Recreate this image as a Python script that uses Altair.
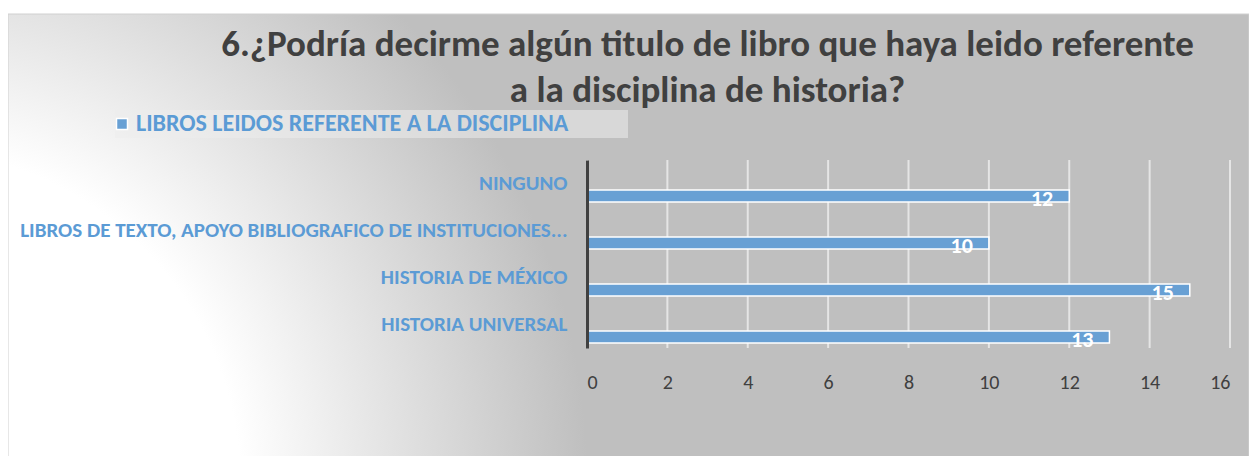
import altair as alt
import pandas as pd

categories = ["NINGUNO", "LIBROS DE TEXTO, APOYO BIBLIOGRAFICO DE INSTITUCIONES...",
              "HISTORIA DE MÉXICO", "HISTORIA UNIVERSAL"]
values = [12, 10, 15, 13]
series_name = "LIBROS LEIDOS REFERENTE A LA DISCIPLINA"
title_lines = ["6.¿Podría decirme algún titulo de libro que haya leido referente",
               "a la disciplina de historia?"]
x_ticks = [0, 2, 4, 6, 8, 10, 12, 14, 16]

FONT = "Carlito, Lato, sans-serif"
BLUE = "#5b9bd5"
BAR_BLUE = "#68a0d4"

df = pd.DataFrame({"cat": categories, "val": values, "series": [series_name] * len(values)})
ticks_df = pd.DataFrame({"t": x_ticks})

W, H = 643, 188
PAD_L, PAD_T = 579, 152
TOTAL_W, TOTAL_H = 1241, 448

# background panel with a radial gradient from the lower-left corner
bg = alt.Chart(pd.DataFrame({"k": [0]})).mark_rect(
    fill=alt.RadialGradient(
        gradient="radial",
        stops=[alt.GradientStop(color="#ffffff", offset=0),
               alt.GradientStop(color="#bfbfbf", offset=1)],
        x1=-0.083, y1=0.70, r1=0.27, x2=-0.083, y2=0.70, r2=0.55),
    stroke="#d0d0d0", strokeWidth=1,
).encode(x=alt.value(-PAD_L), x2=alt.value(TOTAL_W - PAD_L),
         y=alt.value(-146), y2=alt.value(TOTAL_H - PAD_T + 2))

legend_box = alt.Chart(pd.DataFrame({"k": [0]})).mark_rect(
    fill="#ececec", fillOpacity=0.55
).encode(x=alt.value(-472), x2=alt.value(41), y=alt.value(-50), y2=alt.value(-22))

grid = alt.Chart(ticks_df).mark_rule(color="#ffffff", strokeWidth=2, opacity=0.6).encode(
    x=alt.X("t:Q", scale=alt.Scale(domain=[0, 16], nice=False)))

y_enc = alt.Y("cat:N", sort=None, scale=alt.Scale(paddingInner=0, paddingOuter=0),
              axis=alt.Axis(title=None, labelFont=FONT, labelFontWeight="bold",
                            labelFontSize=21, labelColor=BLUE, labelPadding=20,
                            labelLimit=700, ticks=False, domain=True,
                            domainColor="#404040", domainWidth=3, grid=False, zindex=1))
x_enc = alt.X("val:Q", scale=alt.Scale(domain=[0, 16], nice=False),
              axis=alt.Axis(title=None, values=x_ticks, domain=False, ticks=False,
                            grid=False, labelFont=FONT, labelFontSize=20,
                            labelColor="#404040", labelPadding=24, zindex=1))

bars = alt.Chart(df).mark_bar(size=12, yOffset=12.5, stroke="#ffffff", strokeWidth=1.5).encode(
    x=x_enc, y=y_enc,
    color=alt.Color("series:N", scale=alt.Scale(range=[BAR_BLUE]),
                    legend=alt.Legend(title=None, orient="none", legendX=-477, legendY=-48,
                                      symbolType="square", symbolSize=121,
                                      symbolStrokeColor="#ffffff", symbolStrokeWidth=1.5,
                                      labelFont=FONT, labelFontWeight="bold",
                                      labelFontSize=24, labelColor=BLUE, labelLimit=800,
                                      symbolOffset=0, labelOffset=2, padding=0)),
)

labels = alt.Chart(df).mark_text(align="right", baseline="middle", dx=-16, yOffset=15.5,
                                 font=FONT, fontWeight="bold", fontSize=22,
                                 color="#ffffff").encode(
    x="val:Q", y=alt.Y("cat:N", sort=None), text="val:Q")

chart = alt.layer(bg, legend_box, grid, bars, labels).properties(
    width=W, height=H,
    padding={"left": PAD_L, "top": PAD_T, "right": TOTAL_W - PAD_L - W,
             "bottom": TOTAL_H - PAD_T - H},
    autosize=alt.AutoSizeParams(type="none"),
    title=alt.TitleParams(text=title_lines, fontSize=37, font=FONT, fontWeight="bold",
                          color="#404040", anchor="middle", frame="group", dx=-201,
                          dy=96.5, lineHeight=46, offset=0),
).configure_view(stroke=None).configure(background="#ffffff")

chart.save("out.html", embed_options={"renderer": "svg", "actions": False})
